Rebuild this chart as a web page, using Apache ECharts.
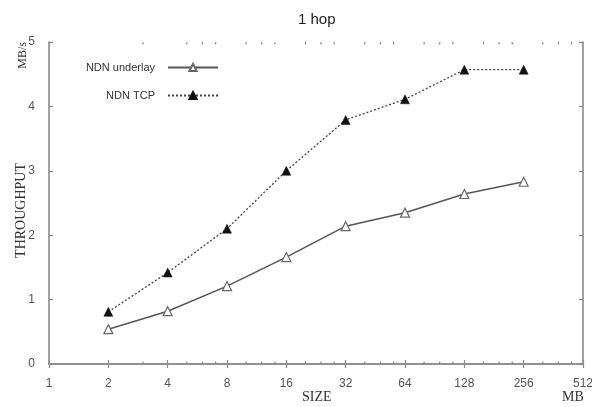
<!DOCTYPE html>
<html>
<head>
<meta charset="utf-8">
<title>1 hop</title>
<script src="https://cdn.jsdelivr.net/npm/echarts@6/dist/echarts.min.js"></script>
<style>
  html, body { margin: 0; padding: 0; background: #fff; }
  #chart { width: 592px; height: 407px; }
</style>
</head>
<body>
<div id="chart"></div>
<script>
// Transfer size (MB) on a base-2 log axis
const sizes = [2, 4, 8, 16, 32, 64, 128, 256];
// Throughput in MB/s
const ndnUnderlay = [0.54, 0.82, 1.21, 1.66, 2.14, 2.35, 2.64, 2.83];
const ndnTcp = [0.81, 1.42, 2.10, 3.00, 3.79, 4.11, 4.57, 4.57];
// Minor tick positions between the powers of two
const minorTicks = [3, 5, 6, 7, 10, 12, 14, 20, 24, 28, 40, 48, 56, 80, 96, 112, 160, 192, 224, 320, 384, 448];

const AXIS = '#8a8a8a';
const SERIF = '"Liberation Serif", "Times New Roman", serif';
const chart = echarts.init(document.getElementById('chart'));

const logAxis = (extra) => Object.assign({
  type: 'log',
  logBase: 2,
  min: 1,
  max: 512,
  interval: 1,
  axisLine: { show: true, lineStyle: { color: AXIS, width: 1.6 } },
  axisTick: { show: true, inside: true, length: 4, lineStyle: { color: AXIS, width: 1.2 } },
  splitLine: { show: false },
  minorTick: { show: false }
}, extra);

const valAxis = (extra) => Object.assign({
  type: 'value',
  min: 0,
  max: 5,
  interval: 1,
  axisLine: { show: true, lineStyle: { color: AXIS, width: 1.6 } },
  axisTick: { show: true, inside: true, length: 4, lineStyle: { color: AXIS, width: 1.2 } },
  splitLine: { show: false }
}, extra);

const legendText = { fontFamily: 'Liberation Sans, Arial, sans-serif', fontSize: 11, color: '#333', padding: [0, 8, 0, 0] };

chart.setOption({
  animation: false,
  backgroundColor: '#fff',
  title: {
    text: '1 hop',
    left: 293,
    top: 7,
    textStyle: { fontFamily: 'Liberation Sans, Arial, sans-serif', fontSize: 15, fontWeight: 'normal', color: '#222' }
  },
  legend: [
    { data: ['NDN underlay'], right: 368, top: 57, align: 'right', itemWidth: 50, itemHeight: 9, textStyle: legendText },
    { data: ['NDN TCP'], right: 368, top: 85, align: 'right', itemWidth: 50, itemHeight: 9, textStyle: legendText }
  ],
  grid: { left: 49, right: 9, top: 42, bottom: 43, containLabel: false, outerBoundsMode: 'none' },
  xAxis: [
    logAxis({
      position: 'bottom',
      axisLabel: {
        margin: 14,
        fontFamily: 'Liberation Sans, Arial, sans-serif',
        fontSize: 12,
        color: '#555',
        formatter: (v) => String(Math.round(v))
      }
    }),
    logAxis({ position: 'top', axisLabel: { show: false } })
  ],
  yAxis: [
    valAxis({
      position: 'left',
      axisLabel: { margin: 14, fontFamily: 'Liberation Sans, Arial, sans-serif', fontSize: 12, color: '#555' }
    }),
    valAxis({ position: 'right', axisLabel: { show: false } })
  ],
  graphic: [
    {
      type: 'text',
      left: 14,
      top: 163,
      rotation: Math.PI / 2,
      style: { text: 'THROUGHPUT', font: '14px ' + SERIF, fill: '#333' }
    },
    {
      type: 'text',
      left: 17,
      top: 42,
      rotation: Math.PI / 2,
      style: { text: 'MB/s', font: '12px ' + SERIF, fill: '#333' }
    },
    {
      type: 'text',
      left: 302,
      top: 390,
      style: { text: 'SIZE', font: '14px ' + SERIF, fill: '#333' }
    },
    {
      type: 'text',
      left: 562,
      top: 390,
      style: { text: 'MB', font: '14px ' + SERIF, fill: '#333' }
    }
  ],
  series: [
    {
      name: 'NDN underlay',
      type: 'line',
      data: sizes.map((s, i) => [s, ndnUnderlay[i]]),
      symbol: 'triangle',
      symbolSize: 9,
      lineStyle: { color: '#555', width: 1.5, type: 'solid' },
      itemStyle: { color: '#fff', borderColor: '#666', borderWidth: 1.2 },
      z: 3
    },
    {
      name: 'NDN TCP',
      type: 'line',
      data: sizes.map((s, i) => [s, ndnTcp[i]]),
      symbol: 'triangle',
      symbolSize: 9,
      lineStyle: { color: '#444', width: 1.3, type: [2, 2] },
      itemStyle: { color: '#111', borderColor: '#111', borderWidth: 0.5 },
      z: 3
    },
    {
      // short minor ticks on the bottom and top frame edges
      type: 'custom',
      silent: true,
      data: minorTicks.map((v) => [v, 0]),
      renderItem: (params, api) => {
        const v = api.value(0);
        const b = api.coord([v, 0]);
        const t = api.coord([v, 5]);
        const style = { stroke: AXIS, lineWidth: 1.2 };
        return {
          type: 'group',
          children: [
            { type: 'line', shape: { x1: b[0], y1: b[1], x2: b[0], y2: b[1] - 2.5 }, style },
            { type: 'line', shape: { x1: t[0], y1: t[1], x2: t[0], y2: t[1] + 2.5 }, style }
          ]
        };
      },
      z: 2
    }
  ]
});
</script>
</body>
</html>
